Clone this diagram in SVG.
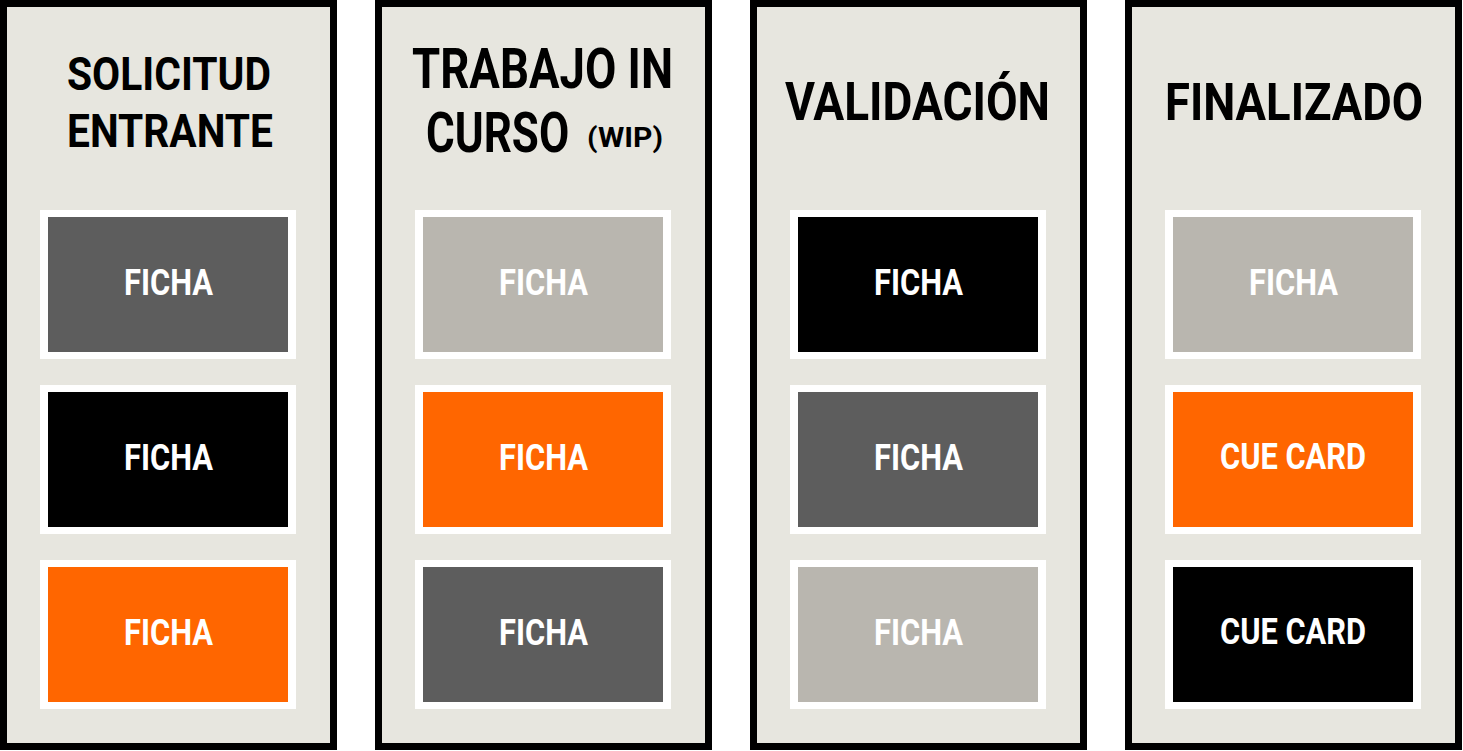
<svg xmlns="http://www.w3.org/2000/svg" width="1463" height="751" viewBox="0 0 1463 751">
<style>
.col{fill:#e7e6df;stroke:#000;stroke-width:7}
.mat{fill:#fff}
.dk{fill:#5d5d5d}
.lt{fill:#b9b6af}
.or{fill:#ff6600}
.bk{fill:#000}
.h{font-family:Roboto,"Liberation Sans",sans-serif;font-weight:700;fill:#000}
.c{font-family:Roboto,"Liberation Sans",sans-serif;font-weight:700;font-size:36px;fill:#fff}
</style>
<rect width="1463" height="751" fill="#fff"/>
<g id="col-solicitud">
<rect class="col" x="3.5" y="3.5" width="330" height="743"/>
<text class="h" x="67" y="90" font-size="46" textLength="204" lengthAdjust="spacingAndGlyphs">SOLICITUD</text>
<text class="h" x="67" y="147" font-size="46" textLength="206" lengthAdjust="spacingAndGlyphs">ENTRANTE</text>
<g id="c1-1"><rect class="mat" x="40" y="210" width="256" height="149"/><rect class="dk" x="48" y="217" width="240" height="135"/><text class="c" x="124" y="295" textLength="89" lengthAdjust="spacingAndGlyphs">FICHA</text></g>
<g id="c1-2"><rect class="mat" x="40" y="385" width="256" height="149"/><rect class="bk" x="48" y="392" width="240" height="135"/><text class="c" x="124" y="470" textLength="89" lengthAdjust="spacingAndGlyphs">FICHA</text></g>
<g id="c1-3"><rect class="mat" x="40" y="560" width="256" height="149"/><rect class="or" x="48" y="567" width="240" height="135"/><text class="c" x="124" y="645" textLength="89" lengthAdjust="spacingAndGlyphs">FICHA</text></g>
</g>
<g id="col-wip">
<rect class="col" x="378.5" y="3.5" width="330" height="743"/>
<text class="h" x="412" y="88" font-size="56" textLength="261" lengthAdjust="spacingAndGlyphs">TRABAJO IN</text>
<text class="h" font-size="56" transform="translate(426,152) scale(0.8,1)" x="0" y="0" textLength="179" lengthAdjust="spacingAndGlyphs">CURSO</text>
<text class="h" x="587" y="147" font-size="27" textLength="76" lengthAdjust="spacingAndGlyphs">(WIP)</text>
<g id="c2-1"><rect class="mat" x="415" y="210" width="256" height="149"/><rect class="lt" x="423" y="217" width="240" height="135"/><text class="c" x="499" y="295" textLength="89" lengthAdjust="spacingAndGlyphs">FICHA</text></g>
<g id="c2-2"><rect class="mat" x="415" y="385" width="256" height="149"/><rect class="or" x="423" y="392" width="240" height="135"/><text class="c" x="499" y="470" textLength="89" lengthAdjust="spacingAndGlyphs">FICHA</text></g>
<g id="c2-3"><rect class="mat" x="415" y="560" width="256" height="149"/><rect class="dk" x="423" y="567" width="240" height="135"/><text class="c" x="499" y="645" textLength="89" lengthAdjust="spacingAndGlyphs">FICHA</text></g>
</g>
<g id="col-validacion">
<rect class="col" x="753.5" y="3.5" width="330" height="743"/>
<text class="h" x="785" y="120" font-size="53" textLength="265" lengthAdjust="spacingAndGlyphs">VALIDACIÓN</text>
<g id="c3-1"><rect class="mat" x="790" y="210" width="256" height="149"/><rect class="bk" x="798" y="217" width="240" height="135"/><text class="c" x="874" y="295" textLength="89" lengthAdjust="spacingAndGlyphs">FICHA</text></g>
<g id="c3-2"><rect class="mat" x="790" y="385" width="256" height="149"/><rect class="dk" x="798" y="392" width="240" height="135"/><text class="c" x="874" y="470" textLength="89" lengthAdjust="spacingAndGlyphs">FICHA</text></g>
<g id="c3-3"><rect class="mat" x="790" y="560" width="256" height="149"/><rect class="lt" x="798" y="567" width="240" height="135"/><text class="c" x="874" y="645" textLength="89" lengthAdjust="spacingAndGlyphs">FICHA</text></g>
</g>
<g id="col-finalizado">
<rect class="col" x="1128.5" y="3.5" width="330" height="743"/>
<text class="h" x="1165" y="120" font-size="52" textLength="258" lengthAdjust="spacingAndGlyphs">FINALIZADO</text>
<g id="c4-1"><rect class="mat" x="1165" y="210" width="256" height="149"/><rect class="lt" x="1173" y="217" width="240" height="135"/><text class="c" x="1249" y="295" textLength="89" lengthAdjust="spacingAndGlyphs">FICHA</text></g>
<g id="c4-2"><rect class="mat" x="1165" y="385" width="256" height="149"/><rect class="or" x="1173" y="392" width="240" height="135"/><text class="c" x="1220" y="469" textLength="146" lengthAdjust="spacingAndGlyphs">CUE CARD</text></g>
<g id="c4-3"><rect class="mat" x="1165" y="560" width="256" height="149"/><rect class="bk" x="1173" y="567" width="240" height="135"/><text class="c" x="1220" y="644" textLength="146" lengthAdjust="spacingAndGlyphs">CUE CARD</text></g>
</g>
</svg>
